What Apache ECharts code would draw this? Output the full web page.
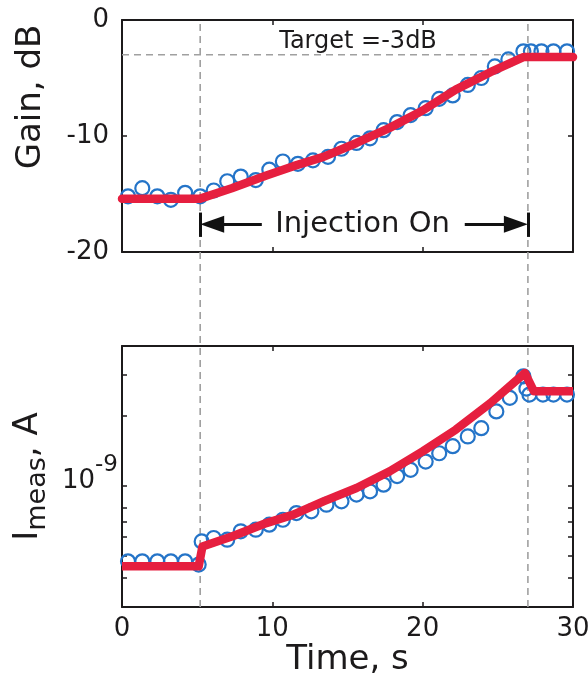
<!DOCTYPE html>
<html>
<head>
<meta charset="utf-8">
<script src="https://cdn.jsdelivr.net/npm/echarts@6/dist/echarts.min.js"></script>
<style>
html,body{margin:0;padding:0;background:#fff;}
#chart{width:588px;height:682px;}
</style>
</head>
<body>
<div id="chart"></div>
<script>
// ---- data ----
const gainTime = [0.4,1.35,2.35,3.25,4.2,5.2,6.1,7.0,7.9,8.9,9.8,10.7,11.7,12.7,13.7,14.6,15.6,16.5,17.4,18.3,19.2,20.2,21.1,22.0,23.0,23.9,24.8,25.7,26.7,27.2,27.9,28.7,29.6];
const gainMeas = [-15.2,-14.5,-15.2,-15.5,-14.9,-15.2,-14.7,-13.9,-13.5,-13.8,-12.9,-12.2,-12.4,-12.1,-11.8,-11.1,-10.6,-10.2,-9.5,-8.8,-8.2,-7.6,-6.8,-6.5,-5.6,-5.0,-4.0,-3.4,-2.7,-2.7,-2.7,-2.7,-2.7];
const gainFitTime = [0,5.2,7.3,9.6,11.4,13.4,15.6,17.8,20.0,22.2,24.5,26.7,30];
const gainFit = [-15.4,-15.4,-14.5,-13.4,-12.6,-11.8,-10.6,-9.3,-7.8,-6.0,-4.5,-3.2,-3.2];

const curTime = [0.4,1.35,2.35,3.25,4.2,5.1,5.3,6.1,7.0,7.9,8.9,9.8,10.7,11.6,12.6,13.6,14.6,15.6,16.5,17.4,18.3,19.2,20.2,21.1,22.0,23.0,23.9,24.9,25.8,26.7,26.9,27.1,28.0,28.7,29.6];
const curMeas = [4.72e-10,4.72e-10,4.72e-10,4.72e-10,4.72e-10,4.57e-10,5.75e-10,5.95e-10,5.85e-10,6.36e-10,6.46e-10,6.79e-10,7.13e-10,7.62e-10,7.75e-10,8.28e-10,8.56e-10,9.15e-10,9.45e-10,1.01e-9,1.10e-9,1.17e-9,1.27e-9,1.38e-9,1.48e-9,1.63e-9,1.77e-9,2.09e-9,2.39e-9,2.96e-9,2.62e-9,2.47e-9,2.47e-9,2.47e-9,2.47e-9];
const curFitTime = [0,5.1,5.35,7.35,9.6,11.4,13.4,15.6,17.8,20.0,22.2,24.5,26.8,27.4,30];
const curFit = [4.49e-10,4.49e-10,5.47e-10,6.05e-10,6.9e-10,7.5e-10,8.56e-10,9.77e-10,1.153e-9,1.406e-9,1.743e-9,2.27e-9,3.06e-9,2.55e-9,2.55e-9];

const eventTimes = [5.2, 27.0];          // injection on / off
const targetGain = -3;                   // dB
const timeTicks = [0, 10, 20, 30];
const gainTicks = [0, -10, -20];
const curTickValues = [4e-10,5e-10,6e-10,7e-10,8e-10,1e-9,2e-9,3e-9];
const curLabelValues = [1e-9];

// ---- styling ----
const FONT = 'DejaVu Sans';
const INK = '#1c1a1b';
const RED = '#e61f3f';
const BLUE = '#2474c8';
const DASH = '#a0a0a0';

const zip = (a, b) => a.map((v, i) => [v, b[i]]);

const boxLine = {show: true, onZero: false, lineStyle: {color: INK, width: 2}};
const tickIn = {show: true, inside: true, length: 5, lineStyle: {color: INK, width: 1.5}};

function xAx(grid, pos, labels) {
  return {
    type: 'value', gridIndex: grid, position: pos, min: 0, max: 30, interval: 10,
    axisLine: boxLine, axisTick: tickIn, splitLine: {show: false},
    axisLabel: {show: labels, color: INK, fontFamily: FONT, fontSize: 26, margin: 9,
      formatter: v => timeTicks.includes(v) ? String(v) : ''}
  };
}

const chart = echarts.init(document.getElementById('chart'), null, {renderer: 'canvas'});
const option = {
  animation: false,
  backgroundColor: '#fff',
  textStyle: {fontFamily: FONT, color: INK},
  grid: [
    {left: 122, right: 15, top: 20, height: 232, outerBoundsMode: 'none', containLabel: false},
    {left: 122, right: 15, top: 346, height: 261, outerBoundsMode: 'none', containLabel: false},
    {left: 122, right: 15, top: 20, bottom: 75, outerBoundsMode: 'none', containLabel: false}
  ],
  xAxis: [
    xAx(0, 'bottom', false),
    xAx(0, 'top', false),
    Object.assign(xAx(1, 'bottom', true), {
      name: 'Time, s', nameLocation: 'middle', nameGap: 30,
      nameTextStyle: {fontFamily: FONT, fontSize: 34, color: INK}
    }),
    xAx(1, 'top', false),
    {type: 'value', gridIndex: 2, min: 0, max: 30, show: false}
  ],
  yAxis: [
    {
      type: 'value', gridIndex: 0, position: 'left', min: -20, max: 0, interval: 10,
      axisLine: boxLine, axisTick: tickIn, splitLine: {show: false},
      axisLabel: {color: INK, fontFamily: FONT, fontSize: 26, margin: 13, padding: [0, 0, 8, 0],
        formatter: v => gainTicks.includes(v) ? String(v) : ''},
      name: 'Gain, dB', nameLocation: 'middle', nameGap: 74,
      nameTextStyle: {fontFamily: FONT, fontSize: 34, color: INK, padding: [0, 0, 0, 78]}
    },
    {
      type: 'value', gridIndex: 0, position: 'right', min: -20, max: 0, interval: 10,
      axisLine: boxLine, axisTick: tickIn, splitLine: {show: false}, axisLabel: {show: false}
    },
    {
      type: 'log', logBase: 10, gridIndex: 1, position: 'left', min: 3e-10, max: 4e-9,
      axisLine: boxLine,
      axisTick: Object.assign({}, tickIn, {customValues: curTickValues}),
      minorTick: {show: false}, splitLine: {show: false},
      axisLabel: {
        customValues: curLabelValues, margin: 4, padding: [0, 0, 24, 0],
        formatter: () => '{b|10}{s|-9}',
        rich: {
          b: {fontFamily: FONT, fontSize: 26, color: INK, verticalAlign: 'bottom', padding: [15, 0, 0, 0]},
          s: {fontFamily: FONT, fontSize: 23, color: INK, verticalAlign: 'top', lineHeight: 22}
        }
      },
      name: '{i|I}{sub|meas}{i|, A}', nameLocation: 'middle', nameGap: 61,
      nameTextStyle: {
        rich: {
          i: {fontFamily: FONT, fontSize: 34, color: INK, verticalAlign: 'top', lineHeight: 40},
          sub: {fontFamily: FONT, fontSize: 27, color: INK, verticalAlign: 'bottom', lineHeight: 14, padding: [28, 0, 0, 0]}
        }
      }
    },
    {
      type: 'log', logBase: 10, gridIndex: 1, position: 'right', min: 3e-10, max: 4e-9,
      axisLine: boxLine,
      axisTick: Object.assign({}, tickIn, {customValues: curTickValues}),
      minorTick: {show: false}, splitLine: {show: false}, axisLabel: {show: false}
    },
    {type: 'value', gridIndex: 2, min: 0, max: 1, show: false}
  ],
  series: [
    // vertical event lines spanning both panels
    ...eventTimes.map(t => ({
      type: 'line', xAxisIndex: 4, yAxisIndex: 4, data: [[t, 0], [t, 1]],
      symbol: 'none', silent: true, z: 1,
      lineStyle: {color: DASH, width: 1.6, type: [7, 5]}
    })),
    // target line
    {
      type: 'line', xAxisIndex: 0, yAxisIndex: 0, data: [[0, targetGain], [30, targetGain]],
      symbol: 'none', silent: true, z: 1,
      lineStyle: {color: DASH, width: 1.6, type: [7, 5]}
    },
    // gain measured
    {
      type: 'scatter', xAxisIndex: 0, yAxisIndex: 0, data: zip(gainTime, gainMeas),
      symbol: 'circle', symbolSize: 14, z: 3,
      itemStyle: {color: 'rgba(0,0,0,0)', borderColor: BLUE, borderWidth: 2.2, opacity: 1}
    },
    // gain fit
    {
      type: 'line', xAxisIndex: 0, yAxisIndex: 0, data: zip(gainFitTime, gainFit),
      symbol: 'none', z: 4, lineStyle: {color: RED, width: 8.5, cap: 'round', join: 'round'}
    },
    // current measured
    {
      type: 'scatter', xAxisIndex: 2, yAxisIndex: 2, data: zip(curTime, curMeas),
      symbol: 'circle', symbolSize: 14, z: 3,
      itemStyle: {color: 'rgba(0,0,0,0)', borderColor: BLUE, borderWidth: 2.2, opacity: 1}
    },
    // current fit
    {
      type: 'line', xAxisIndex: 2, yAxisIndex: 2, data: zip(curFitTime, curFit),
      symbol: 'none', z: 4, lineStyle: {color: RED, width: 8.5, cap: 'butt', join: 'round'}
    },
    // annotations: text
    {
      type: 'scatter', xAxisIndex: 0, yAxisIndex: 0, symbolSize: 0, silent: true, z: 5,
      itemStyle: {opacity: 1},
      data: [
        {value: [15.7, -1.9], label: {formatter: 'Target =-3dB', fontSize: 24, color: INK}},
        {value: [16.0, -17.6], label: {formatter: 'Injection On', fontSize: 29, color: INK}}
      ],
      label: {show: true, position: 'inside', color: INK, fontFamily: FONT}
    },
    // arrows
    {
      type: 'scatter', xAxisIndex: 0, yAxisIndex: 0, data: [], silent: true, z: 5,
      markLine: {
        silent: true, animation: false, symbol: ['none', 'triangle'], symbolSize: [17, 24],
        label: {show: false},
        lineStyle: {color: '#111', width: 3, type: 'solid', opacity: 1},
        data: [
          [{coord: [9.3, -17.6]}, {coord: [eventTimes[0] + 0.8, -17.6]}],
          [{coord: [22.8, -17.6]}, {coord: [eventTimes[1] - 0.8, -17.6]}]
        ]
      }
    },
    // arrow end bars
    {
      type: 'scatter', xAxisIndex: 0, yAxisIndex: 0, data: [], silent: true, z: 5,
      markLine: {
        silent: true, animation: false, symbol: ['none', 'none'],
        label: {show: false},
        lineStyle: {color: '#111', width: 3, type: 'solid', opacity: 1},
        data: eventTimes.map(t => [{coord: [t, -16.6]}, {coord: [t, -18.7]}])
      }
    }
  ]
};
chart.setOption(option);
</script>
</body>
</html>
